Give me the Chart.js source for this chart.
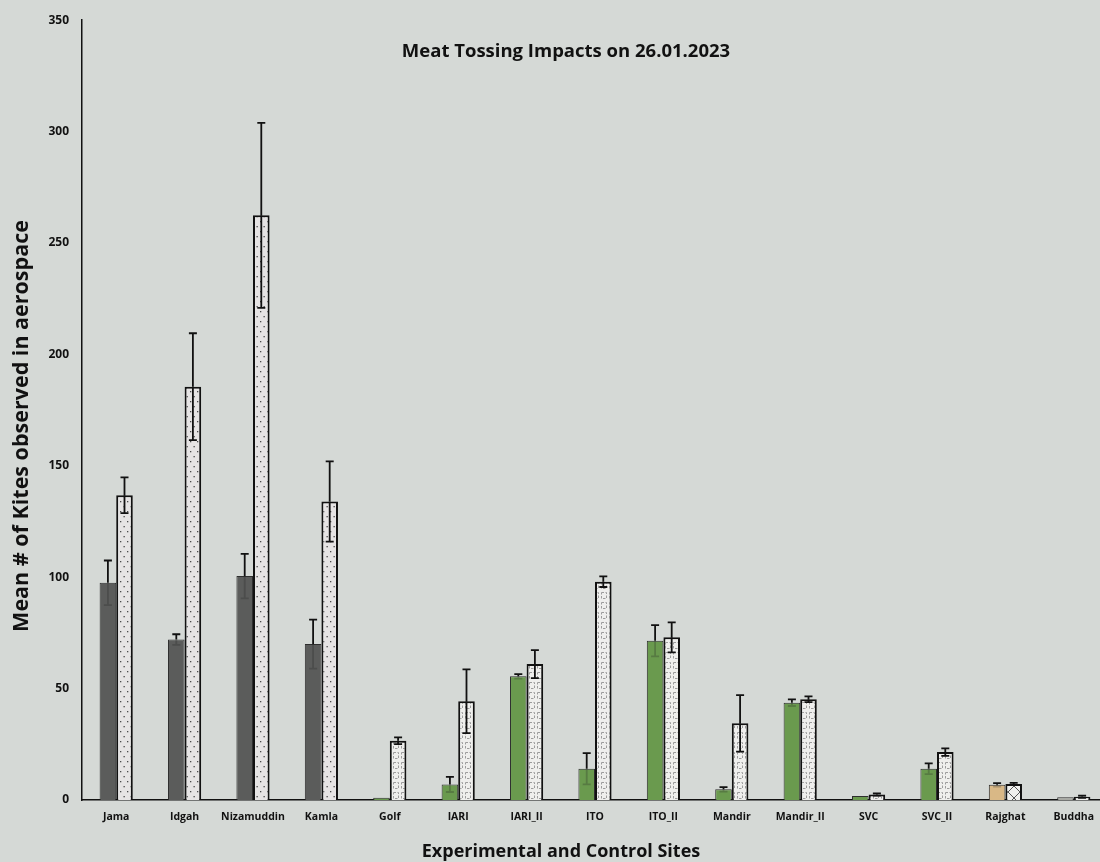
<!DOCTYPE html>
<html>
<head>
<meta charset="utf-8">
<script src="https://cdn.jsdelivr.net/npm/chart.js@4.4.1/dist/chart.umd.min.js"></script>
<style>
  html, body { margin: 0; padding: 0; background: #d5d9d6; overflow: hidden; }
  #wrap { position: relative; width: 1110px; height: 862px; }
</style>
</head>
<body>
<div id="wrap"><canvas id="c" width="1110" height="862"></canvas></div>
<script>
// ---------- DATA ----------
const categories = ['Jama','Idgah','Nizamuddin','Kamla','Golf','IARI','IARI_II','ITO','ITO_II','Mandir','Mandir_II','SVC','SVC_II','Rajghat','Buddha'];
const siteType   = ['A','A','A','A','B','B','B','B','B','B','B','B','B','C','D'];
const beforeMeans = [97.5, 72, 100.5, 70, 1, 7, 55.5, 14, 71.5, 4.8, 43.7, 1.8, 14, 6.8, 1.2];
const beforeErr   = [10, 2.4, 10, 11, 0, 3.4, 1, 7, 7, 1, 1.5, 0, 2.4, 0.8, 0];
const afterMeans  = [136.8, 185.5, 262.4, 134, 26.6, 44.3, 61, 98, 73, 34.4, 45.2, 2.5, 21.5, 7.2, 1.5];
const afterErr    = [8, 24, 41.5, 18, 1.5, 14.3, 6.3, 2.4, 6.7, 12.7, 1.3, 0.5, 1.7, 0.5, 0.5];
const yTicks = [0, 50, 100, 150, 200, 250, 300, 350];
const chartTitle = 'Meat Tossing Impacts on 26.01.2023';
const xTitle = 'Experimental and Control Sites';
const yTitle = 'Mean # of Kites observed in aerospace';

// ---------- STYLES ----------
const FONT = '"Open Sans", Lato, sans-serif';
const solidColors = { A: '#5b5c5b', B: '#6a9a4e', C: '#d9b886', D: '#a9aaa4' };

function tile(w, h, draw) {
  const c = document.createElement('canvas');
  c.width = w; c.height = h;
  const g = c.getContext('2d');
  draw(g, w, h);
  return document.getElementById('c').getContext('2d').createPattern(c, 'repeat');
}
const dotsPattern = tile(7, 10, (g, w, h) => {
  g.fillStyle = '#e6e4e4'; g.fillRect(0, 0, w, h);
  g.fillStyle = '#4a4a4a';
  g.fillRect(1, 1, 1.3, 1.3);
  g.fillRect(4.5, 6, 1.3, 1.3);
});
const gridPattern = tile(8, 10, (g, w, h) => {
  g.fillStyle = '#efefed'; g.fillRect(0, 0, w, h);
  g.strokeStyle = '#9c9c9c'; g.lineWidth = 1;
  g.setLineDash([2.5, 1.5]);
  g.strokeRect(1.5, 2.5, 5, 6);
});
const crossPattern = tile(12, 12, (g, w, h) => {
  g.fillStyle = '#f0f0ee'; g.fillRect(0, 0, w, h);
  g.strokeStyle = '#555'; g.lineWidth = 1;
  g.beginPath();
  g.moveTo(0, 0); g.lineTo(w, h);
  g.moveTo(w, 0); g.lineTo(0, h);
  g.stroke();
});
const afterFills = { A: dotsPattern, B: gridPattern, C: crossPattern, D: '#eeeeec' };

// ---------- PLUGINS ----------
const errorBars = {
  id: 'errorBars',
  afterDatasetsDraw(chart) {
    const ctx = chart.ctx;
    const y = chart.scales.y;
    ctx.save();
    ctx.lineWidth = 1.8;
    chart.data.datasets.forEach((ds, i) => {
      const meta = chart.getDatasetMeta(i);
      meta.data.forEach((bar, j) => {
        const m = ds.data[j], e = ds.errors[j];
        if (!e) return;
        const ym = y.getPixelForValue(m);
        const yt = y.getPixelForValue(m + e);
        const yb = y.getPixelForValue(Math.max(0, m - e));
        const x = bar.x, cap = 4;
        ctx.strokeStyle = '#111';
        ctx.beginPath();
        ctx.moveTo(x, yt); ctx.lineTo(x, ym);
        ctx.moveTo(x - cap, yt); ctx.lineTo(x + cap, yt);
        ctx.stroke();
        ctx.strokeStyle = ds.solidBars ? 'rgba(30,30,30,0.25)' : '#111';
        ctx.beginPath();
        ctx.moveTo(x, ym); ctx.lineTo(x, yb);
        ctx.moveTo(x - cap, yb); ctx.lineTo(x + cap, yb);
        ctx.stroke();
      });
    });
    ctx.restore();
  }
};
const titles = {
  id: 'titles',
  afterDraw(chart) {
    const ctx = chart.ctx;
    ctx.save();
    ctx.fillStyle = '#111';
    ctx.textAlign = 'center';
    ctx.textBaseline = 'middle';
    ctx.font = 'bold 18.5px ' + FONT;
    ctx.fillText(chartTitle, 566, 52);
    ctx.font = 'bold 18px ' + FONT;
    ctx.fillText(xTitle, 561, 852);
    ctx.translate(22, 426);
    ctx.rotate(-Math.PI / 2);
    ctx.font = 'bold 21.5px ' + FONT;
    ctx.fillText(yTitle, 0, 0);
    ctx.restore();
  }
};

// ---------- CHART ----------
new Chart(document.getElementById('c'), {
  type: 'bar',
  data: {
    labels: categories,
    datasets: [
      {
        label: 'Before',
        data: beforeMeans,
        errors: beforeErr,
        solidBars: true,
        backgroundColor: siteType.map(t => solidColors[t]),
        borderColor: '#2e2e2e',
        borderWidth: 1,
        categoryPercentage: 0.485,
        barPercentage: 1.0
      },
      {
        label: 'After',
        data: afterMeans,
        errors: afterErr,
        solidBars: false,
        backgroundColor: siteType.map(t => afterFills[t]),
        borderColor: '#111',
        borderWidth: 2,
        categoryPercentage: 0.485,
        barPercentage: 1.0
      }
    ]
  },
  options: {
    responsive: false,
    animation: false,
    layout: { padding: { top: 20, right: 2, left: 0, bottom: 0 } },
    plugins: {
      legend: { display: false },
      tooltip: { enabled: false },
      title: { display: false }
    },
    scales: {
      x: {
        grid: { display: false, drawTicks: false },
        border: { display: true, color: '#111', width: 1.5 },
        ticks: { color: '#111', font: { family: FONT, size: 10.5, weight: 'bold' }, padding: 11, maxRotation: 0, autoSkip: false },
        afterFit(s) { s.height = 62; }
      },
      y: {
        min: 0, max: 350,
        afterBuildTicks(s) { s.ticks = yTicks.map(v => ({ value: v })); },
        grid: { display: false, drawTicks: false },
        border: { display: true, color: '#111', width: 1.5 },
        ticks: { color: '#111', font: { family: FONT, size: 12, weight: 'bold' }, padding: 13 },
        afterFit(s) { s.width = 82; }
      }
    }
  },
  plugins: [errorBars, titles]
});
</script>
</body>
</html>
